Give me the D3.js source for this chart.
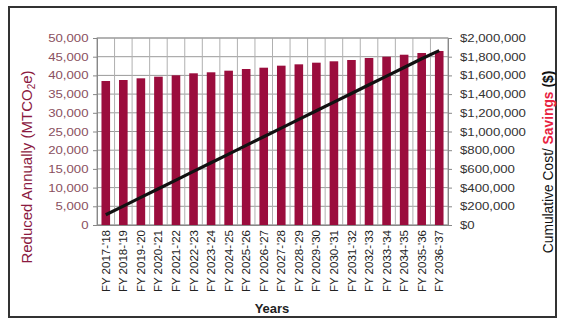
<!DOCTYPE html>
<html>
<head>
<meta charset="utf-8">
<script src="https://cdn.jsdelivr.net/npm/d3@7"></script>
<style>
html,body{margin:0;padding:0;background:#fff;}
svg{display:block;font-family:"Liberation Sans",Arial,sans-serif;}
</style>
</head>
<body>
<svg id="chart" width="561" height="320"></svg>
<script>
const categories = ["FY 2017-'18","FY 2018-'19","FY 2019-'20","FY 2020-'21","FY 2021-'22","FY 2022-'23","FY 2023-'24","FY 2024-'25","FY 2025-'26","FY 2026-'27","FY 2027-'28","FY 2028-'29","FY 2029-'30","FY 2030-'31","FY 2031-'32","FY 2032-'33","FY 2033-'34","FY 2034-'35","FY 2035-'36","FY 2036-'37"];
const reducedAnnually = [38500,38770,39220,39660,40030,40560,40830,41260,41710,42060,42600,42960,43400,43770,44120,44650,45000,45530,45990,46520];
const cumulativeSavings = [110000,202000,295000,388000,480000,573000,666000,758000,851000,944000,1036000,1129000,1222000,1314000,1407000,1500000,1592000,1685000,1778000,1865000];
const leftTicks = [0,5000,10000,15000,20000,25000,30000,35000,40000,45000,50000];
const rightTicks = [0,200000,400000,600000,800000,1000000,1200000,1400000,1600000,1800000,2000000];

const svg = d3.select("#chart");
const m = {left:97, right:448, top:38, bottom:225};
const sx = 1.2;

// outer frame
svg.append("rect").attr("x",9).attr("y",7).attr("width",547).attr("height",310)
  .attr("fill","#fff").attr("stroke","#333").attr("stroke-width",2);

const x = d3.scaleBand().domain(categories).range([m.left,m.right]).paddingInner(0.51).paddingOuter(0.255);
const xb = d3.scaleBand().domain(categories).range([m.left,m.right]);
const yL = d3.scaleLinear().domain([0,50000]).range([m.bottom,m.top]);
const yR = d3.scaleLinear().domain([0,2000000]).range([m.bottom,m.top]);

// gridlines horizontal
svg.append("g").selectAll("line").data(leftTicks).join("line")
  .attr("x1",m.left).attr("x2",m.right)
  .attr("y1",d=>yL(d)).attr("y2",d=>yL(d))
  .attr("stroke","#9a9a9a").attr("stroke-width",1);
// vertical gridlines at category boundaries
svg.append("g").selectAll("line").data(categories.slice(1)).join("line")
  .attr("x1",d=>xb(d)).attr("x2",d=>xb(d))
  .attr("y1",m.top).attr("y2",m.bottom)
  .attr("stroke","#b0b0b0").attr("stroke-width",1);
// plot border
svg.append("rect").attr("x",m.left).attr("y",m.top).attr("width",m.right-m.left).attr("height",m.bottom-m.top)
  .attr("fill","none").attr("stroke","#9a9a9a");

// bars
svg.append("g").selectAll("rect").data(reducedAnnually).join("rect")
  .attr("x",(d,i)=>x(categories[i]))
  .attr("width",x.bandwidth())
  .attr("y",d=>yL(d))
  .attr("height",d=>yL(0)-yL(d))
  .attr("fill","#9b0d3d");

// line
const line = d3.line().x((d,i)=>xb(categories[i])+xb.bandwidth()/2).y(d=>yR(d));
svg.append("path").datum(cumulativeSavings).attr("d",line)
  .attr("fill","none").attr("stroke","#111").attr("stroke-width",3.2);

// left axis
const gL = svg.append("g").attr("transform",`translate(${m.left},0)`)
  .call(d3.axisLeft(yL).tickValues(leftTicks).tickFormat(d3.format(",")).tickSize(4).tickPadding(4));
gL.select(".domain").attr("stroke","#888");
gL.selectAll(".tick line").attr("stroke","#888");
gL.selectAll("text").attr("fill","#8a5060").attr("font-size","11px")
  .attr("font-family","Liberation Sans, Arial, sans-serif")
  .attr("x",-8.5/sx).attr("transform",`scale(${sx},1)`);

// right axis
const gR = svg.append("g").attr("transform",`translate(${m.right},0)`)
  .call(d3.axisRight(yR).tickValues(rightTicks).tickFormat(d=>"$"+d3.format(",")(d)).tickSize(4).tickPadding(8));
gR.select(".domain").attr("stroke","#888");
gR.selectAll(".tick line").attr("stroke","#888");
gR.selectAll("text").attr("fill","#333").attr("font-size","11px")
  .attr("font-family","Liberation Sans, Arial, sans-serif")
  .attr("x",12/sx).attr("transform",`scale(${sx},1)`);

// bottom axis
const gB = svg.append("g").attr("transform",`translate(0,${m.bottom})`)
  .call(d3.axisBottom(xb).tickSize(0).tickPadding(0));
gB.select(".domain").attr("stroke","#888");
gB.selectAll("text")
  .attr("font-size","11.5px").attr("fill","#222")
  .attr("font-family","Liberation Sans, Arial, sans-serif")
  .attr("text-anchor","end").attr("dy","0.35em")
  .attr("transform","translate(0,5) rotate(-90)")
  .attr("x",0).attr("y",0);

// axis titles
const lt = svg.append("text").attr("transform","translate(32,167) rotate(-90)")
  .attr("text-anchor","middle").attr("font-size","15px").attr("fill","#8b1a3f");
lt.append("tspan").text("Reduced Annually (MTCO");
lt.append("tspan").text("2").attr("font-size","10px").attr("dy","3");
lt.append("tspan").text("e)").attr("dy","-3");

const rt = svg.append("text").attr("transform","translate(553,162) rotate(-90)")
  .attr("text-anchor","middle").attr("font-size","13.8px").attr("fill","#111");
rt.append("tspan").text("Cumulative Cost/ ");
rt.append("tspan").text("Savings").attr("fill","#e8233f").attr("font-weight","bold");
rt.append("tspan").text(" ($)").attr("font-weight","bold");

svg.append("text").attr("x",272).attr("y",313).attr("text-anchor","middle")
  .attr("font-size","13px").attr("font-weight","bold").attr("fill","#222").text("Years");
</script>
</body>
</html>
